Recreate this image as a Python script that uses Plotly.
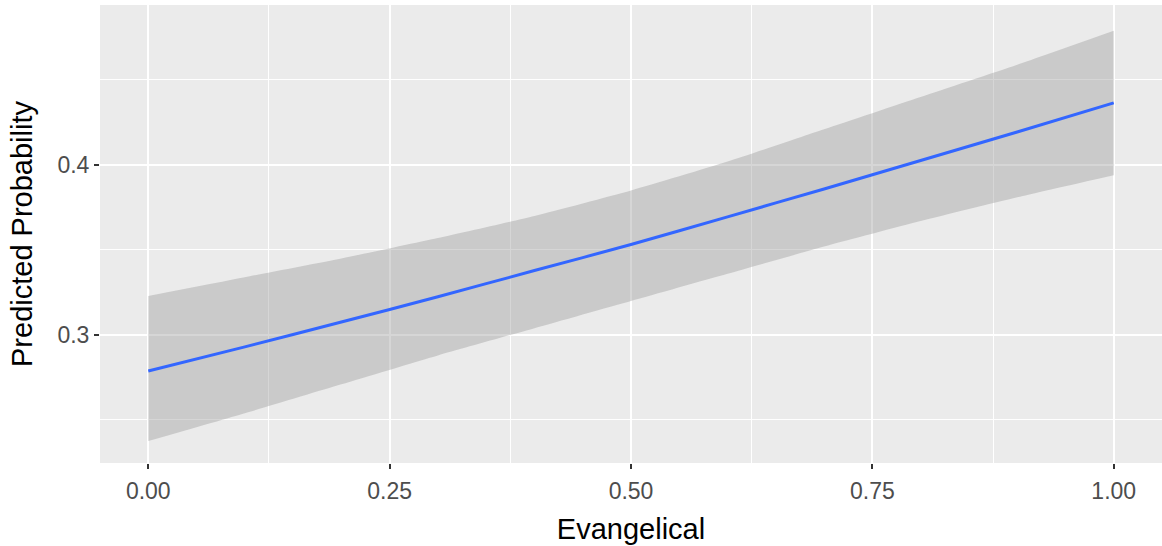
import plotly.graph_objects as go

# Data
evangelical = [0.0, 0.1, 0.2, 0.3, 0.4, 0.5, 0.6, 0.7, 0.8, 0.9, 1.0]
predicted = [0.2788, 0.2930, 0.3076, 0.3225, 0.3379, 0.3532, 0.3695, 0.3859, 0.4026, 0.4194, 0.4365]
upper = [0.323, 0.334, 0.345, 0.357, 0.370, 0.385, 0.402, 0.421, 0.440, 0.459, 0.479]
lower = [0.2376, 0.254, 0.271, 0.288, 0.304, 0.320, 0.336, 0.352, 0.367, 0.381, 0.394]

x_ticks = [0.0, 0.25, 0.5, 0.75, 1.0]
x_ticklabels = ["0.00", "0.25", "0.50", "0.75", "1.00"]
y_ticks = [0.3, 0.4]
y_ticklabels = ["0.3", "0.4"]

fig = go.Figure()
fig.add_trace(go.Scatter(x=evangelical, y=lower, mode="lines",
                         line=dict(width=0, shape="spline", smoothing=0.6),
                         hoverinfo="skip", showlegend=False))
fig.add_trace(go.Scatter(x=evangelical, y=upper, mode="lines",
                         line=dict(width=0, shape="spline", smoothing=0.6),
                         fill="tonexty", fillcolor="rgba(153,153,153,0.4)",
                         hoverinfo="skip", showlegend=False))
fig.add_trace(go.Scatter(x=evangelical, y=predicted, mode="lines",
                         line=dict(color="#3366FF", width=3, shape="spline", smoothing=0.6),
                         showlegend=False))

font_family = "Liberation Sans, Arial, sans-serif"
fig.update_layout(
    width=1162, height=546,
    margin=dict(l=100, r=0, t=5, b=83),
    paper_bgcolor="white", plot_bgcolor="#EBEBEB",
    font=dict(family=font_family, color="#4D4D4D"),
    showlegend=False,
)
fig.update_xaxes(
    range=[-0.05, 1.05], tickvals=x_ticks, ticktext=x_ticklabels,
    automargin=False,
    showgrid=True, gridcolor="white", gridwidth=1.6, zeroline=False,
    ticks="outside", ticklen=5, tickwidth=1.5, tickcolor="#333333",
    ticklabelstandoff=2,
    tickfont=dict(size=23, color="#4D4D4D"),
    title=dict(text="Evangelical", font=dict(size=29, color="black"), standoff=16),
    minor=dict(tick0=0.125, dtick=0.25, showgrid=True, gridcolor="white", gridwidth=0.8, ticks=""),
    showline=False,
)
fig.update_yaxes(
    range=[0.2247, 0.4941], tickvals=y_ticks, ticktext=y_ticklabels,
    automargin=False,
    showgrid=True, gridcolor="white", gridwidth=1.6, zeroline=False,
    ticks="outside", ticklen=5, tickwidth=1.5, tickcolor="#333333",
    tickfont=dict(size=23, color="#4D4D4D"),
    title=dict(text="Predicted Probability", font=dict(size=29, color="black"), standoff=16),
    minor=dict(tick0=0.25, dtick=0.1, showgrid=True, gridcolor="white", gridwidth=0.8, ticks=""),
    showline=False,
)

fig.write_html("out.html", config={"displayModeBar": False},
               post_script="document.body.style.margin='0';document.body.style.overflow='hidden';")
